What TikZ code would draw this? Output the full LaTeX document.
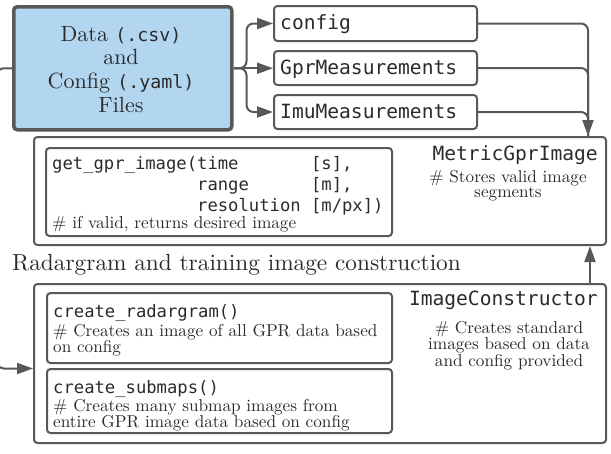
\documentclass[tikz,border=0pt]{standalone}
\usepackage{fontspec}
\setmonofont{DejaVu Sans Mono}
\newfontfamily\filemono[Scale=0.83]{DejaVu Sans Mono}
\usetikzlibrary{arrows.meta}

\newlength{\du}
\setlength{\du}{1pt}

% serif text is set at 10pt and scaled, keeps the 10pt design
\newcommand{\notecenter}[3]{\scalebox{#1}{\fontsize{10}{#2}\selectfont\begin{tabular}[t]{@{}c@{}}#3\end{tabular}}}
\newcommand{\noteleft}[3]{\scalebox{#1}{\fontsize{10}{#2}\selectfont\begin{tabular}[t]{@{}l@{}}#3\end{tabular}}}

\definecolor{dialinecolor}{rgb}{0.345, 0.345, 0.345}
\definecolor{diafillcolor}{rgb}{0.702, 0.839, 0.941}
\definecolor{diatextcolor}{rgb}{0.170, 0.170, 0.170}

\tikzset{
  diabox/.style={draw=dialinecolor, line width=2\du, rounded corners=3.5\du, anchor=north west, inner sep=0\du},
  dialine/.style={draw=dialinecolor, line width=2\du, rounded corners=7\du},
  diaarrow/.style={dialine, -{Triangle[length=16pt,width=11pt]}},
  dialabel/.style={text=diatextcolor, inner sep=0\du},
  codefont/.style={font=\fontsize{17.2}{21}\selectfont\ttfamily},
  namefont/.style={font=\fontsize{19.6}{23}\selectfont\ttfamily},
}

\begin{document}
\begin{tikzpicture}[x=1\du, y=-1\du]
\useasboundingbox (0,0) rectangle (611,453);

% input files
\node[diabox, fill=diafillcolor, line width=3.5\du, minimum width=218\du, minimum height=123\du] (files) at (12,5) {};
\node[dialabel, anchor=base] (filestext) at (121,41) {\notecenter{2.2}{10.9}{Data {\filemono(.csv)}\\and\\Config {\filemono(.yaml)}\\Files}};

% parsed objects
\node[diabox, minimum width=203\du, minimum height=35\du] (config) at (273,5) {};
\node[dialabel, namefont, anchor=base west] (configtext) at (280,29) {config};
\node[diabox, minimum width=203\du, minimum height=34\du] (gpr) at (273,50) {};
\node[dialabel, namefont, anchor=base west] (gprtext) at (280,74) {GprMeasurements};
\node[diabox, minimum width=203\du, minimum height=34\du] (imu) at (273,94) {};
\node[dialabel, namefont, anchor=base west] (imutext) at (280,118) {ImuMeasurements};

% MetricGprImage
\node[diabox, minimum width=572\du, minimum height=108\du] (metric) at (33,136) {};
\node[dialabel, namefont, anchor=base east] (metrictitle) at (598,160) {MetricGprImage};
\node[dialabel, anchor=base] (metricnote) at (508,182) {\notecenter{1.72}{9.3}{\# Stores valid image\\segments}};
\node[diabox, minimum width=346\du, minimum height=88\du] (getimage) at (45,147) {};
\node[dialabel, codefont, anchor=base west] (getline1) at (52,169) {get\_gpr\_image(time~~~~~~~[s],};
\node[dialabel, codefont, anchor=base west] (getline2) at (52,190) {\phantom{get\_gpr\_image(}range~~~~~~[m],};
\node[dialabel, codefont, anchor=base west] (getline3) at (52,211) {\phantom{get\_gpr\_image(}resolution~[m/px])};
\node[dialabel, anchor=base west] (getnote) at (52,228) {\noteleft{1.72}{9.3}{\# if valid, returns desired image}};

\node[dialabel, anchor=base west] (caption) at (12,270) {\noteleft{2.33}{12}{Radargram and training image construction}};

% ImageConstructor
\node[diabox, minimum width=572\du, minimum height=159\du] (constructor) at (33,283) {};
\node[dialabel, namefont, anchor=base east] (constructortitle) at (598,305) {ImageConstructor};
\node[dialabel, anchor=base] (constructornote) at (509,333) {\notecenter{1.72}{9.3}{\# Creates standard\\images based on data\\and config provided}};
\node[diabox, minimum width=345\du, minimum height=70\du] (radargram) at (46,292) {};
\node[dialabel, codefont, anchor=base west] (radargramcode) at (53,317) {create\_radargram()};
\node[dialabel, anchor=base west] (radargramnote) at (53,336) {\noteleft{1.72}{8.2}{\# Creates an image of all GPR data based\\on config}};
\node[diabox, minimum width=345\du, minimum height=64\du] (submaps) at (46,368) {};
\node[dialabel, codefont, anchor=base west] (submapscode) at (53,393) {create\_submaps()};
\node[dialabel, anchor=base west] (submapsnote) at (53,411) {\noteleft{1.72}{8.2}{\# Creates many submap images from\\entire GPR image data based on config}};

% connectors
\coordinate (metricin) at ([xshift=-19\du]metric.north east);
\coordinate (leftturn) at (-3,0);
\coordinate (constructorin) at ([yshift=-5\du]constructor.west);
\draw[diaarrow] (files.east) -- ++(13,0) |- (config.west);
\draw[diaarrow] (files.east) -- (files.east -| gpr.west);
\draw[diaarrow] (files.east) -- ++(13,0) |- (imu.west);
\draw[dialine] (gpr.east) -| (metricin);
\draw[dialine] (imu.east) -| (metricin);
\draw[diaarrow] (config.east) -| (metricin);
\draw[diaarrow] ([xshift=-17\du]constructor.north east) -- ([xshift=-17\du]metric.south east);
\draw[diaarrow] (files.west) -- (files.west -| leftturn) -- (leftturn |- constructorin) -- (constructorin);
\end{tikzpicture}
\end{document}
